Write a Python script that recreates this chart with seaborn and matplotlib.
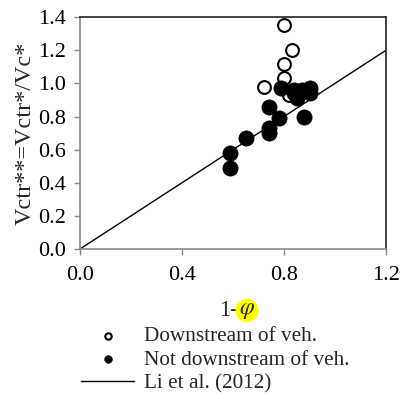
import matplotlib
matplotlib.use("Agg")
import matplotlib.pyplot as plt
import seaborn as sns
import pandas as pd

down_x = [0.80, 0.83, 0.80, 0.80, 0.72, 0.82]
down_y = [1.35, 1.20, 1.12, 1.03, 0.98, 0.93]

not_x = [0.59, 0.59, 0.65, 0.74, 0.74, 0.74, 0.78, 0.79, 0.84, 0.84, 0.85, 0.87, 0.90, 0.90, 0.88]
not_y = [0.58, 0.49, 0.67, 0.86, 0.73, 0.70, 0.79, 0.97, 0.96, 0.94, 0.91, 0.96, 0.97, 0.94, 0.80]

li_x = [0.0, 1.2]
li_y = [0.0, 1.2]

xticks = [0.0, 0.4, 0.8, 1.2]
yticks = [0.0, 0.2, 0.4, 0.6, 0.8, 1.0, 1.2, 1.4]

sns.set_theme(style="ticks")
plt.rcParams['font.family'] = ['Liberation Serif', 'DejaVu Serif']
plt.rcParams['mathtext.fontset'] = 'stix'

fig = plt.figure(figsize=(4.0, 3.99), dpi=100)
ax = fig.add_axes([0.2, 0.376, 0.765, 0.581])

df_down = pd.DataFrame({"x": down_x, "y": down_y})
df_not = pd.DataFrame({"x": not_x, "y": not_y})
df_li = pd.DataFrame({"x": li_x, "y": li_y})

sns.lineplot(data=df_li, x="x", y="y", ax=ax, color="black", linewidth=1.0,
             label="Li et al. (2012)", zorder=2)
sns.scatterplot(data=df_down, x="x", y="y", ax=ax, s=85, facecolor="white",
                edgecolor="black", linewidth=1.5, label="Downstream of veh.", zorder=3)
sns.scatterplot(data=df_not, x="x", y="y", ax=ax, s=120, color="black",
                edgecolor="black", linewidth=0.5, label="Not downstream of veh.", zorder=4)

ax.set_xlim(0, 1.2)
ax.set_ylim(0, 1.4)
ax.set_xticks(xticks)
ax.set_yticks(yticks)
ax.set_xticklabels([f"{v:.1f}" for v in xticks], fontsize=16)
ax.set_yticklabels([f"{v:.1f}" for v in yticks], fontsize=16)
ax.tick_params(direction="out", length=4, width=1, color="#888888", pad=8, labelcolor="black")
ax.tick_params(axis="y", pad=6)
for s in ["left", "bottom"]:
    ax.spines[s].set_color("#888888")
    ax.spines[s].set_linewidth(1.2)
for s in ["top", "right"]:
    ax.spines[s].set_color("#222222")
    ax.spines[s].set_linewidth(1.2)

ax.set_ylabel("Vctr**=Vctr*/Vc*", fontsize=17.5, labelpad=2)
ax.set_xlabel("")
fig.text(0.595, 0.222, "1-", fontsize=16.5, ha="right", va="center")
fig.text(0.598, 0.222, r"$\varphi$", fontsize=17, ha="left", va="center",
         bbox=dict(boxstyle="circle,pad=0.05", facecolor="yellow", edgecolor="none"))

handles, labels = ax.get_legend_handles_labels()
order = [labels.index("Downstream of veh."), labels.index("Not downstream of veh."),
         labels.index("Li et al. (2012)")]
ax.get_legend().remove()
leg = fig.legend([handles[i] for i in order], [labels[i] for i in order],
                 loc="center", bbox_to_anchor=(0.538, 0.098), frameon=False,
                 fontsize=15.3, handlelength=2.5, handletextpad=0.45, labelspacing=0.17,
                 markerscale=0.5, borderpad=0)

fig.savefig("out.png", dpi=100)
